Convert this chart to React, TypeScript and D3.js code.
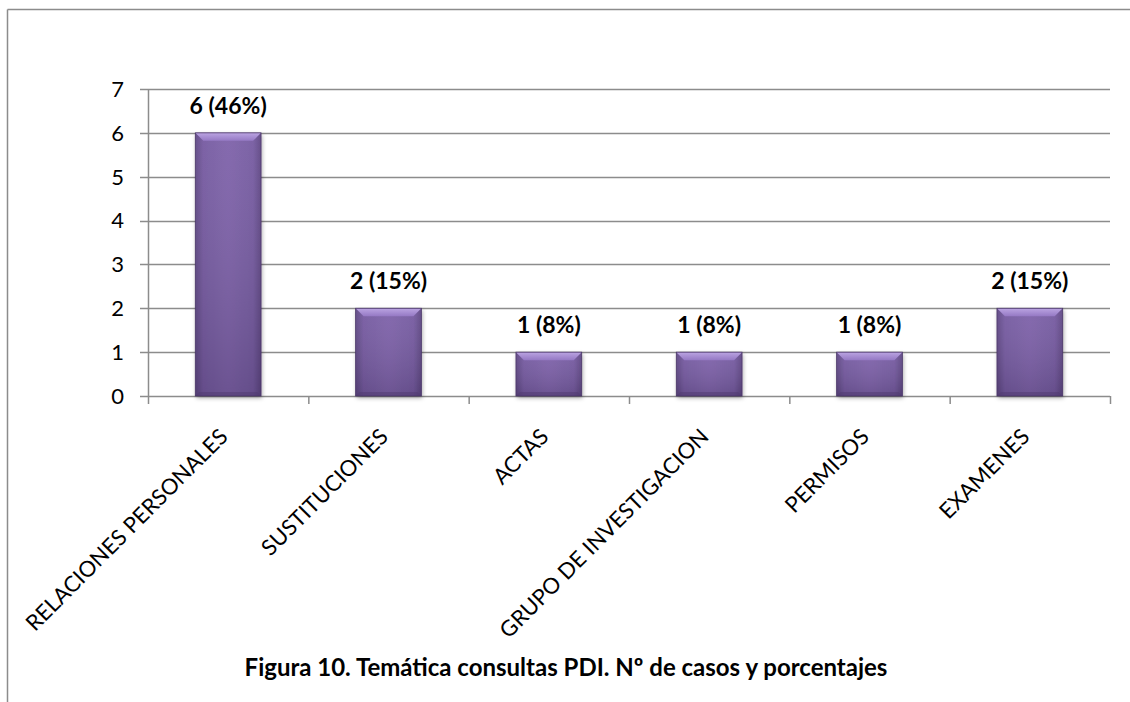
import React from "react";
import * as d3 from "d3";

const categories = [
  "RELACIONES PERSONALES",
  "SUSTITUCIONES",
  "ACTAS",
  "GRUPO DE INVESTIGACION",
  "PERMISOS",
  "EXAMENES",
];
const values = [6, 2, 1, 1, 1, 2];
const percents = ["46%", "15%", "8%", "8%", "8%", "15%"];
const yTicks = [0, 1, 2, 3, 4, 5, 6, 7];
const title = "Figura 10. Temática consultas PDI. Nº de casos y porcentajes";

const W = 1130;
const H = 702;
const margin = { left: 148, right: 20, top: 89, bottom: 306 };

export default function App() {
  const x = d3
    .scaleBand<string>()
    .domain(categories)
    .range([margin.left, W - margin.right])
    .paddingInner(0.59)
    .paddingOuter(0.295);
  const band = d3
    .scaleBand<string>()
    .domain(categories)
    .range([margin.left, W - margin.right]);
  const y = d3.scaleLinear().domain([0, 7]).range([H - margin.bottom, margin.top]);
  const font = "Lato, 'Open Sans', sans-serif";
  const bw = x.bandwidth();
  const bev = 8;
  return (
    <svg
      width={W}
      height={H}
      style={{ position: "absolute", left: 0, top: 0 }}
      fontFamily={font}
    >
      <defs>
        <linearGradient id="body" x1="0" x2="1" y1="0" y2="0">
          <stop offset="0" stopColor="#5e4683" />
          <stop offset="0.12" stopColor="#7459a0" />
          <stop offset="0.5" stopColor="#7d61a9" />
          <stop offset="0.88" stopColor="#7459a0" />
          <stop offset="1" stopColor="#5e4683" />
        </linearGradient>
        <linearGradient id="vshade" x1="0" x2="0" y1="0" y2="1">
          <stop offset="0" stopColor="#ffffff" stopOpacity="0.06" />
          <stop offset="1" stopColor="#000000" stopOpacity="0.14" />
        </linearGradient>
        <linearGradient id="topbev" x1="0" x2="0" y1="0" y2="1">
          <stop offset="0" stopColor="#bba4e2" />
          <stop offset="1" stopColor="#9579c4" />
        </linearGradient>
        <filter id="shadow" x="-20%" y="-20%" width="140%" height="140%">
          <feDropShadow dx="1" dy="2" stdDeviation="2" floodColor="#000" floodOpacity="0.35" />
        </filter>
      </defs>
      <rect x={0} y={0} width={W} height={H} fill="#fff" />
      {/* outer frame */}
      <line x1={7.5} x2={W} y1={9.5} y2={9.5} stroke="#8c8c8c" strokeWidth={1.5} />
      <line x1={7.5} x2={7.5} y1={9.5} y2={H} stroke="#8c8c8c" strokeWidth={1.5} />

      {/* gridlines */}
      {yTicks.map((t) => (
        <line
          key={"g" + t}
          x1={margin.left - 8}
          x2={W - margin.right}
          y1={Math.round(y(t)) + 0.5}
          y2={Math.round(y(t)) + 0.5}
          stroke="#8c8c8c"
          strokeWidth={1.5}
        />
      ))}
      {/* y axis */}
      <line
        x1={margin.left + 0.5}
        x2={margin.left + 0.5}
        y1={y(7)}
        y2={y(0) + 8}
        stroke="#8c8c8c"
        strokeWidth={1.5}
      />
      {categories.map((c) => (
        <line
          key={"t" + c}
          x1={band(c)! + band.bandwidth() + 0.5}
          x2={band(c)! + band.bandwidth() + 0.5}
          y1={y(0)}
          y2={y(0) + 8}
          stroke="#8c8c8c"
          strokeWidth={1.5}
        />
      ))}
      {yTicks.map((t) => (
        <text
          key={"yl" + t}
          x={124}
          y={y(t)}
          dy="0.36em"
          textAnchor="end"
          fontSize={22}
          fill="#000"
        >
          {t}
        </text>
      ))}

      {/* bars */}
      {categories.map((c, i) => {
        const x0 = x(c)!;
        const y0 = y(values[i]);
        const y1 = y(0);
        const h = y1 - y0;
        return (
          <g key={"b" + c}>
            <rect x={x0} y={y0} width={bw} height={h} fill="url(#body)" filter="url(#shadow)" />
            <rect x={x0} y={y0} width={bw} height={h} fill="url(#vshade)" />
            <polygon
              points={`${x0},${y0} ${x0 + bw},${y0} ${x0 + bw - bev},${y0 + bev} ${x0 + bev},${y0 + bev}`}
              fill="url(#topbev)"
            />
            <polygon
              points={`${x0},${y1} ${x0 + bw},${y1} ${x0 + bw - bev / 2},${y1 - bev / 2} ${x0 + bev / 2},${y1 - bev / 2}`}
              fill="#4f3a70"
              opacity={0.5}
            />
            <rect x={x0} y={y0} width={bw} height={h} fill="none" stroke="#4a3668" strokeWidth={0.8} />
            <text
              x={x0 + bw / 2}
              y={y0 - 19}
              textAnchor="middle"
              fontSize={23}
              fontWeight="bold"
              fill="#000"
            >
              {`${values[i]} (${percents[i]})`}
            </text>
          </g>
        );
      })}

      {/* category labels */}
      {categories.map((c) => {
        const cx = band(c)! + band.bandwidth() / 2 + 1;
        const cy = y(0) + 42;
        return (
          <text
            key={"c" + c}
            transform={`translate(${cx},${cy}) rotate(-45)`}
            textAnchor="end"
            fontSize={22}
            fill="#000"
          >
            {c}
          </text>
        );
      })}

      <text
        x={566}
        y={676}
        textAnchor="middle"
        fontSize={24}
        fontWeight="bold"
        fill="#000"
      >
        {title}
      </text>
    </svg>
  );
}
